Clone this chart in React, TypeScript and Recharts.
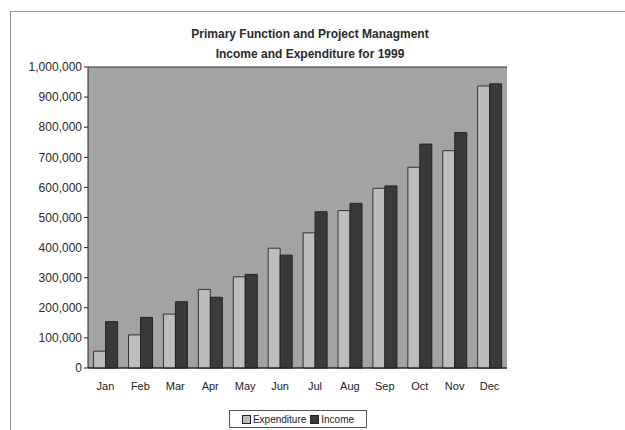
import React from 'react';
import { BarChart, Bar, XAxis, YAxis, CartesianGrid } from 'recharts';

const months = ['Jan', 'Feb', 'Mar', 'Apr', 'May', 'Jun', 'Jul', 'Aug', 'Sep', 'Oct', 'Nov', 'Dec'];
const expenditure = [56000, 110000, 179000, 261000, 303000, 398000, 449000, 523000, 597000, 667000, 722000, 937000];
const income = [154000, 168000, 220000, 235000, 311000, 375000, 519000, 547000, 605000, 744000, 782000, 944000];
const yTicks = [0, 100000, 200000, 300000, 400000, 500000, 600000, 700000, 800000, 900000, 1000000];
const titleLines = ['Primary Function and Project Managment', 'Income and Expenditure for 1999'];
const seriesNames = ['Expenditure', 'Income'];

const data = months.map((m, i) => ({ month: m, Expenditure: expenditure[i], Income: income[i] }));

const FONT = '"Liberation Sans", Arial, sans-serif';
const EXP_FILL = '#bdbdbd';
const INC_FILL = '#3a3a3a';

const fmt = (v: number) => v.toLocaleString('en-US');

export default function App() {
  return (
    <div style={{ position: 'absolute', left: 0, top: 0, width: 625, height: 430, background: '#fff', fontFamily: FONT }}>
      <div style={{ position: 'absolute', left: 10, top: 11, width: 615, height: 419, borderLeft: '1px solid #888', borderTop: '1px solid #999' }} />
      <div style={{ position: 'absolute', left: 160, top: 24, width: 300, textAlign: 'center', fontSize: 12, fontWeight: 'bold', color: '#2a2a2a', lineHeight: '20px' }}>
        {titleLines.map((t) => (
          <div key={t}>{t}</div>
        ))}
      </div>
      <BarChart
        width={625}
        height={430}
        data={data}
        margin={{ top: 67, right: 118, bottom: 38, left: 0 }}
        barCategoryGap="16%"
        barGap={0}
        style={{ position: 'absolute', left: 0, top: 0 }}
      >
        <CartesianGrid vertical={false} fill="#a3a3a3" stroke="#2e2e2e" strokeWidth={1} fillOpacity={1} />
        <XAxis
          dataKey="month"
          height={24}
          axisLine={{ stroke: '#222' }}
          tickLine={false}
          tick={{ fontSize: 11, fill: '#222', fontFamily: FONT }}
          tickMargin={8}
        />
        <YAxis
          yAxisId="left"
          width={88}
          domain={[0, 1000000]}
          ticks={yTicks}
          tickFormatter={fmt}
          axisLine={{ stroke: '#222' }}
          tickLine={{ stroke: '#222' }}
          tickSize={4}
          tick={{ fontSize: 12, fill: '#2a2a2a', fontFamily: FONT }}
          interval={0}
        />
        <YAxis
          yAxisId="right"
          orientation="right"
          width={0}
          domain={[0, 1000000]}
          ticks={yTicks}
          tick={false}
          tickLine={false}
          axisLine={{ stroke: '#444' }}
        />
        <Bar yAxisId="left" dataKey="Expenditure" fill={EXP_FILL} stroke="#333" strokeWidth={1} isAnimationActive={false} />
        <Bar yAxisId="left" dataKey="Income" fill={INC_FILL} stroke="#222" strokeWidth={1} isAnimationActive={false} />
      </BarChart>
      <div
        style={{
          position: 'absolute',
          left: 229,
          top: 410,
          width: 136,
          height: 16,
          border: '1px solid #555',
          display: 'flex',
          alignItems: 'center',
          justifyContent: 'center',
          fontSize: 10,
          color: '#222',
          gap: 4,
          background: '#fff',
        }}
      >
        {seriesNames.map((n, i) => (
          <span key={n} style={{ display: 'flex', alignItems: 'center', gap: 2 }}>
            <span style={{ width: 7, height: 7, border: '1px solid #222', background: i === 0 ? EXP_FILL : INC_FILL, display: 'inline-block' }} />
            {n}
          </span>
        ))}
      </div>
    </div>
  );
}
